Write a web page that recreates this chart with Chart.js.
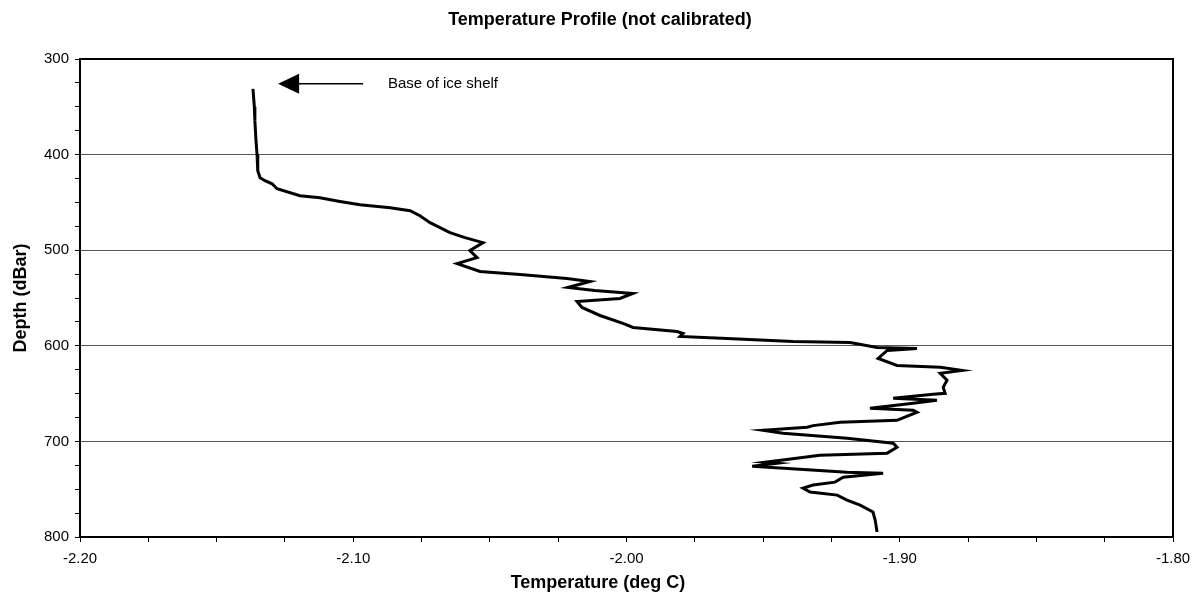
<!DOCTYPE html>
<html>
<head>
<meta charset="utf-8">
<script src="https://cdn.jsdelivr.net/npm/chart.js@4/dist/chart.umd.min.js"></script>
<style>
html, body { margin: 0; padding: 0; background: #fff; }
#wrap { width: 1200px; height: 605px; }
</style>
</head>
<body>
<div id="wrap"><canvas id="profileChart"></canvas></div>
<script>
// profile, top (shallow) to bottom (deep)
const temperature = [
  -2.1367, -2.1362, -2.1360, -2.1356, -2.1352, -2.1350, -2.1349, -2.1341, -2.1323, -2.1297,
  -2.1279, -2.1195, -2.1122, -2.1049, -2.0975, -2.0865, -2.0792, -2.0756, -2.0719, -2.0646,
  -2.0591, -2.0525, -2.0573, -2.0547, -2.0620, -2.0536, -2.0390, -2.0218, -2.0134, -2.0214,
  -2.0116, -1.9977, -2.0024, -2.0181, -2.0163, -2.0097, -2.0013, -1.9976, -1.9815, -1.9793,
  -1.9804, -1.9632, -1.9390, -1.9182, -1.9083, -1.8937, -1.9046, -1.9079, -1.9010, -1.8852,
  -1.8772, -1.8852, -1.8827, -1.8841, -1.8834, -1.8878, -1.9024, -1.8864, -1.8951, -1.9109,
  -1.8951, -1.8937, -1.9010, -1.9218, -1.9317, -1.9339, -1.9500, -1.9427, -1.9193, -1.9024,
  -1.9010, -1.9046, -1.9292, -1.9493, -1.9449, -1.9540, -1.9193, -1.9061, -1.9207, -1.9237,
  -1.9317, -1.9354, -1.9328, -1.9229, -1.9193, -1.9145, -1.9098, -1.9090, -1.9083
];
const depth = [
  331.3, 350.0, 364.7, 385.0, 400.2, 410.0, 416.9, 424.2, 427.3, 430.5,
  435.7, 443.0, 445.2, 449.0, 452.4, 455.5, 458.7, 463.9, 471.2, 481.6,
  486.8, 492.1, 500.4, 507.7, 514.0, 522.3, 525.5, 529.6, 532.8, 539.0,
  542.2, 545.3, 550.5, 553.7, 559.9, 568.3, 576.6, 580.8, 585.0, 587.1,
  590.2, 592.3, 595.4, 596.5, 601.7, 602.7, 604.8, 613.2, 620.5, 622.5,
  625.7, 628.8, 636.1, 643.4, 649.7, 650.7, 654.9, 657.0, 660.1, 665.3,
  667.4, 669.5, 677.9, 680.0, 683.5, 685.2, 688.3, 691.4, 696.7, 701.9,
  706.1, 712.3, 714.4, 721.7, 722.8, 725.9, 732.2, 733.2, 737.4, 742.6,
  745.7, 748.9, 753.0, 756.2, 761.4, 766.6, 773.9, 782.3, 794.8
];
const xTickLabels = ['-2.20', '-2.10', '-2.00', '-1.90', '-1.80'];
const yTickLabels = ['300', '400', '500', '600', '700', '800'];

const chartTitle = 'Temperature Profile (not calibrated)';
const xTitle = 'Temperature (deg C)';

// arrow note
const noteText = 'Base of ice shelf';
const noteDepth = 326;
const arrowTip = -2.1275;
const arrowTail = -2.0964;
const noteTemp = -2.0873;

const FONT = '"Liberation Sans", Arial, sans-serif';

const frameAndNote = {
  id: 'frameAndNote',
  afterDatasetsDraw(chart) {
    const {ctx, chartArea: a, scales: {x, y}, width} = chart;
    ctx.save();
    ctx.strokeStyle = '#000';
    ctx.fillStyle = '#000';
    ctx.lineWidth = 2;
    ctx.strokeRect(a.left, a.top, a.right - a.left, a.bottom - a.top);

    const py = y.getPixelForValue(noteDepth);
    const tip = x.getPixelForValue(arrowTip);
    const tail = x.getPixelForValue(arrowTail);
    ctx.lineWidth = 1.5;
    ctx.beginPath();
    ctx.moveTo(tail, py);
    ctx.lineTo(tip + 18, py);
    ctx.stroke();
    ctx.beginPath();
    ctx.moveTo(tip, py);
    ctx.lineTo(tip + 21, py - 10);
    ctx.lineTo(tip + 21, py + 10);
    ctx.closePath();
    ctx.fill();

    ctx.font = '15px ' + FONT;
    ctx.textBaseline = 'middle';
    ctx.textAlign = 'left';
    ctx.fillText(noteText, x.getPixelForValue(noteTemp), py);

    // titles are centred on the whole page, not on the plot
    ctx.textAlign = 'center';
    ctx.font = 'bold 18px ' + FONT;
    ctx.fillText(chartTitle, width / 2, 20);
    ctx.fillText(xTitle, width / 2 - 2, 583);
    ctx.restore();
  }
};

const CHART = document.getElementById('profileChart');
let profileChart = new Chart(CHART, {
  type: 'scatter',
  data: {
    datasets: [{
      label: 'Temperature',
      data: temperature.map((t, i) => ({x: t, y: depth[i]})),
      showLine: true,
      borderColor: '#000',
      backgroundColor: '#000',
      borderWidth: 3,
      pointRadius: 0,
      tension: 0
    }]
  },
  options: {
    responsive: true,
    maintainAspectRatio: false,
    animation: false,
    layout: { padding: { right: 27, left: 0, bottom: 0, top: 59 } },
    plugins: {
      legend: { display: false },
      tooltip: { enabled: false },
      title: { display: false }
    },
    scales: {
      x: {
        type: 'linear',
        min: -2.2,
        max: -1.8,
        afterFit: s => { s.height = 68; },
        border: { color: '#000', width: 2 },
        grid: { drawOnChartArea: false, tickColor: '#000', tickLength: 5 },
        ticks: {
          stepSize: 0.025,
          autoSkip: false,
          maxRotation: 0,
          padding: 8,
          color: '#000',
          font: { family: FONT, size: 15 },
          callback: v => {
            const s = v.toFixed(2);
            return Math.abs(v * 10 - Math.round(v * 10)) < 1e-6 && xTickLabels.includes(s) ? s : '';
          }
        },
        title: { display: false }
      },
      y: {
        type: 'linear',
        reverse: true,
        min: 300,
        max: 800,
        afterFit: s => { s.width = 80; },
        border: { color: '#000', width: 2 },
        grid: {
          color: c => (c.tick && Math.round(c.tick.value) % 100 === 0) ? '#555' : 'rgba(0,0,0,0)',
          tickColor: '#000',
          tickLength: 5,
          lineWidth: 1
        },
        ticks: {
          stepSize: 25,
          autoSkip: false,
          padding: 6,
          color: '#000',
          font: { family: FONT, size: 15 },
          callback: v => yTickLabels.includes(String(v)) ? String(v) : ''
        },
        title: {
          display: true,
          text: 'Depth (dBar)',
          color: '#000',
          font: { family: FONT, size: 18, weight: 'bold' },
          padding: { top: 10, bottom: 0 }
        }
      }
    }
  },
  plugins: [frameAndNote]
});
</script>
</body>
</html>
